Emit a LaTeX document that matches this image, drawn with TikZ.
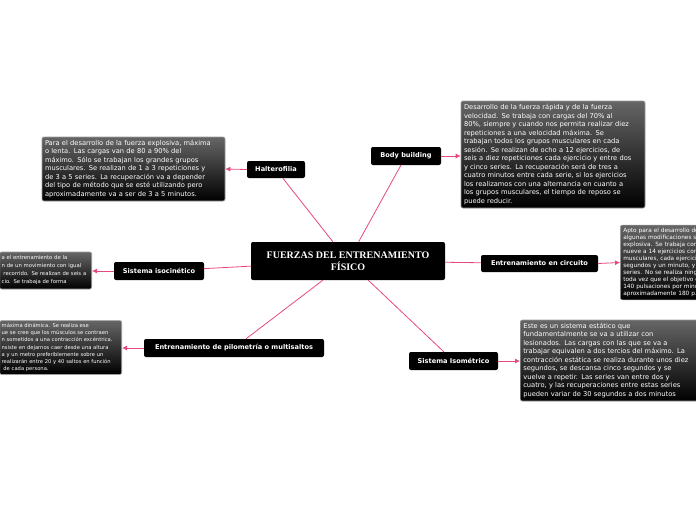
\documentclass[tikz,border=0pt]{standalone}
\usepackage{fontspec}
\setmainfont{DejaVu Sans}
\newfontfamily\titlefont{Liberation Serif}
\usetikzlibrary{arrows.meta}
\definecolor{branchpink}{RGB}{232,72,128}

\begin{document}
\begin{tikzpicture}[x=1pt,y=-1pt,
  topic/.style={fill=black,rounded corners=2pt,text=white,inner sep=0pt,
    minimum height=18pt,font=\fontsize{6.6}{8}\selectfont\bfseries},
  note/.style={draw=black!40,line width=0.6pt,rounded corners=2pt,
    top color=black!60,middle color=black!85,bottom color=black,
    text=white,align=left,inner sep=3pt,font=\fontsize{6.7}{8.5}\selectfont},
  small note/.style={note,font=\fontsize{5.6}{7.2}\selectfont},
  branch/.style={draw=branchpink,line width=0.8pt},
  link/.style={branch,-{Latex[length=5pt,width=5pt]}}
]
  \useasboundingbox (0,0) rectangle (696,520);
  \clip (0,0) rectangle (696,520);

  % central topic
  \node[fill=black,rounded corners=2pt,text=white,minimum width=194pt,
    minimum height=38pt,align=center,
    font=\titlefont\bfseries\fontsize{10}{11.5}\selectfont] (root) at (348,261)
    {FUERZAS DEL ENTRENAMIENTO\\FÍSICO};

  % main topics
  \node[topic,minimum width=58pt,minimum height=17pt] (halt) at (276,169.5) {Halterofilia};
  \node[topic,minimum width=70pt] (body) at (406,156) {Body building};
  \node[topic,minimum width=90pt] (iso) at (159,271) {Sistema isocinético};
  \node[topic,minimum width=117pt,minimum height=17pt] (circ) at (539.5,263.5) {Entrenamiento en circuito};
  \node[topic,minimum width=180pt] (pilo) at (234,348) {Entrenamiento de pilometría o multisaltos};
  \node[topic,minimum width=89pt] (isom) at (453.5,361) {Sistema Isométrico};

  % notes
  \node[note,text width=177pt,minimum height=64pt] (haltnote) at (133.5,169)
    {Para el desarrollo de la fuerza explosiva, máxima\\
     o lenta. Las cargas van de 80 a 90\% del\\
     máximo. Sólo se trabajan los grandes grupos\\
     musculares. Se realizan de 1 a 3 repeticiones y\\
     de 3 a 5 series. La recuperación va a depender\\
     del tipo de método que se esté utilizando pero\\
     aproximadamente va a ser de 3 a 5 minutos.};
  \node[note,text width=178pt,minimum height=107pt] (bodynote) at (553,154.5)
    {Desarrollo de la fuerza rápida y de la fuerza\\
     velocidad. Se trabaja con cargas del 70\% al\\
     80\%, siempre y cuando nos permita realizar diez\\
     repeticiones a una velocidad máxima. Se\\
     trabajan todos los grupos musculares en cada\\
     sesión. Se realizan de ocho a 12 ejercicios, de\\
     seis a diez repeticiones cada ejercicio y entre dos\\
     y cinco series. La recuperación será de tres a\\
     cuatro minutos entre cada serie, si los ejercicios\\
     los realizamos con una alternancia en cuanto a\\
     los grupos musculares, el tiempo de reposo se\\
     puede reducir.};
  \node[small note,anchor=east,text width=88pt,minimum height=37pt,
    font=\fontsize{5.3}{8}\selectfont,inner xsep=2pt] (isonote) at (92,270.5)
    {a el entrenamiento de la\\
     n de un movimiento con igual\\
     \ recorrido. Se realizan de seis a\\
     cio. Se trabaja de forma};
  \node[small note,anchor=east,text width=118pt,minimum height=51pt,
    font=\fontsize{5.2}{7.1}\selectfont,inner xsep=2pt] (pilonote) at (122,347.5)
    {máxima dinámica. Se realiza ese\\
     ue se cree que los músculos se contraen\\
     n sometidos a una contracción excéntrica.\\
     nsiste en dejarnos caer desde una altura\\
     a y un metro preferiblemente sobre un\\
     realizarán entre 20 y 40 saltos en función\\
     \ de cada persona.};
  \node[small note,anchor=west,text width=150pt,minimum height=71pt,
    font=\fontsize{5.8}{7}\selectfont] (circnote) at (620,262.5)
    {Apto para el desarrollo de\\
     algunas modificaciones se\\
     explosiva. Se trabaja con\\
     nueve a 14 ejercicios con\\
     musculares, cada ejercicio\\
     segundos y un minuto, y s\\
     series. No se realiza ningu\\
     toda vez que el objetivo e\\
     140 pulsaciones por minut\\
     aproximadamente 180 p.p};
  \node[note,anchor=west,text width=172pt,minimum height=81pt] (isomnote) at (520,360.5)
    {Este es un sistema estático que\\
     fundamentalmente se va a utilizar con\\
     lesionados. Las cargas con las que se va a\\
     trabajar equivalen a dos tercios del máximo. La\\
     contracción estática se realiza durante unos diez\\
     segundos, se descansa cinco segundos y se\\
     vuelve a repetir. Las series van entre dos y\\
     cuatro, y las recuperaciones entre estas series\\
     pueden variar de 30 segundos a dos minutos};

  % branches from the centre
  \draw[branch] (root) -- (halt);
  \draw[branch] (root) -- (body);
  \draw[branch] (root) -- (iso);
  \draw[branch] (root) -- (circ);
  \draw[branch] (root) -- (pilo);
  \draw[branch] (root) -- (isom);

  % topics to their notes
  \draw[link] (halt.west) -- (haltnote.east);
  \draw[link] (body.east) -- (bodynote.west |- body.east);
  \draw[link] (iso.west) -- (isonote.east |- iso.west);
  \draw[link] (circ.east) -- (circnote.west);
  \draw[link] (pilo.west) -- (pilonote.east |- pilo.west);
  \draw[link] (isom.east) -- (isomnote.west |- isom.east);
\end{tikzpicture}
\end{document}
